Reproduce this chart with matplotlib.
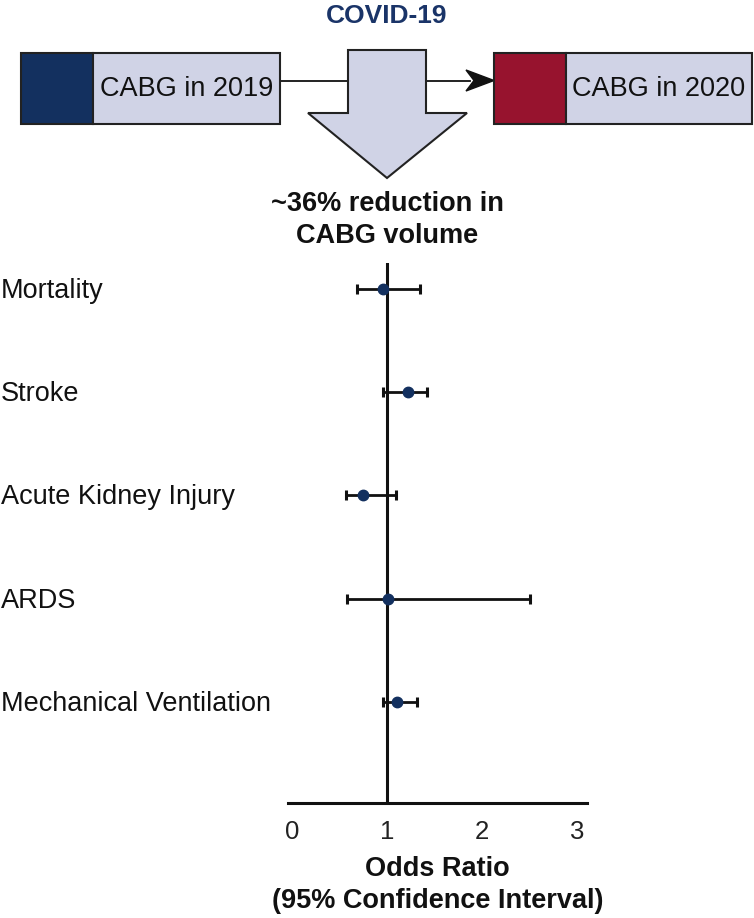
import matplotlib
matplotlib.use("Agg")
import matplotlib.pyplot as plt
import matplotlib.transforms as mtransforms
from matplotlib.patches import Rectangle, Polygon

plt.rcParams['font.family'] = ['Liberation Sans', 'DejaVu Sans']

# forest plot data
outcomes = ["Mortality", "Stroke", "Acute Kidney Injury", "ARDS",
            "Mechanical Ventilation"]
odds = [0.96, 1.22, 0.75, 1.01, 1.11]
ci_low = [0.68, 0.96, 0.57, 0.58, 0.96]
ci_high = [1.35, 1.42, 1.09, 2.50, 1.32]
xticks = [0, 1, 2, 3]

navy = '#13305f'
red = '#97132e'
pale = '#d0d3e6'
edge = '#222222'

W, H = 754, 918
fig = plt.figure(figsize=(W / 100, H / 100), dpi=100)

# ---- forest plot ----
ax = fig.add_axes([288 / W, 1 - 803 / H, (587 - 288) / W, (803 - 263) / H])
ypos = list(range(len(outcomes)))
xerr = [[o - l for o, l in zip(odds, ci_low)],
        [h - o for o, h in zip(odds, ci_high)]]
ax.axvline(1, color='#111111', lw=2.2, zorder=1)
ax.errorbar(odds, ypos, xerr=xerr, fmt='o', color=navy, ms=7.5,
            ecolor='#111111', elinewidth=2.0, capsize=3.5, capthick=2.2,
            zorder=3)
ax.set_xlim(-0.042, 3.105)
ax.set_ylim(4.98, -0.25)
ax.set_xticks(xticks)
ax.set_xticklabels([str(t) for t in xticks], fontsize=18.5, color='#222222')
ax.tick_params(axis='x', length=0, pad=12)
ax.set_yticks([])
for s in ['top', 'right', 'left']:
    ax.spines[s].set_visible(False)
ax.spines['bottom'].set_linewidth(2.2)
ax.spines['bottom'].set_color('#111111')
ax.set_xlabel("Odds Ratio\n(95% Confidence Interval)", fontsize=19.5,
              fontweight='bold', color='#111111', labelpad=9, linespacing=1.28)

lab_tr = mtransforms.blended_transform_factory(fig.transFigure, ax.transData)
for y, name in zip(ypos, outcomes):
    ax.text(1 / W, y + 0.02, name, transform=lab_tr, ha='left', va='center',
            fontsize=19.5, color='#111111', clip_on=False)

# ---- top diagram ----
d = fig.add_axes([0, 0, 1, 1], zorder=-1)
d.set_xlim(0, W)
d.set_ylim(H, 0)
d.axis('off')

# connecting line with arrow head
d.plot([280, 470], [80.5, 80.5], color='#111111', lw=1.3, zorder=1)
d.add_patch(Polygon([[494, 80.5], [466, 70], [474, 80.5], [466, 91]],
                    closed=True, color='#111111', zorder=2))

for x0, xs, x1, c, txt in [(21, 93, 280, navy, "CABG in 2019"),
                           (494, 566, 752, red, "CABG in 2020")]:
    d.add_patch(Rectangle((x0, 53), xs - x0, 71, facecolor=c,
                          edgecolor=edge, lw=1.5, zorder=3))
    d.add_patch(Rectangle((xs, 53), x1 - xs, 71, facecolor=pale,
                          edgecolor=edge, lw=1.5, zorder=3))
    d.text((xs + x1) / 2, 89, txt, ha='center', va='center', fontsize=19.5,
           color='#111111', zorder=4)

# big down arrow
d.add_patch(Polygon([[348, 50], [426, 50], [426, 113], [467, 113],
                     [387, 178], [308, 113], [348, 113]], closed=True,
                    facecolor=pale, edgecolor=edge, lw=1.5, zorder=5))

d.text(387, 16, "COVID-19", ha='center', va='center', fontsize=19,
       fontweight='bold', color='#1a3468')
d.text(387, 220, "~36% reduction in\nCABG volume", ha='center', va='center',
       fontsize=19.5, fontweight='bold', color='#111111', linespacing=1.3)

fig.savefig("out.png", dpi=100)
